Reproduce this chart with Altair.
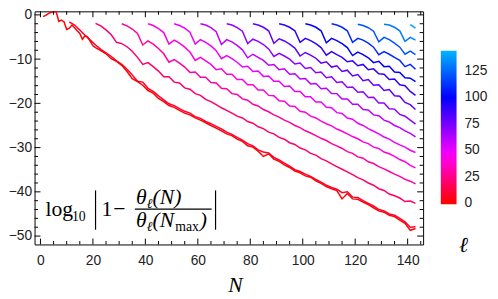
import altair as alt
import pandas as pd

# ---------------- data ----------------
L_LIST = [140, 130, 120, 110, 100, 90, 80, 70, 60, 50, 40, 30, 20, 10, 0]

N_L0 = list(range(1, 21)) + list(range(21, 144, 2))
V_L0 = [-0.4, -0.1, 0.3, 0.6, 0.7, 0.7, -1.5, -1.2, -1.6, -3.3, -3.0, -2.3, -2.9, -3.6, -4.2, -5.5, -4.7, -5.0, -6.0, -7.0,
        -7.4, -8.1, -8.8, -9.9, -10.5, -11.4, -12.8, -14.4, -15.1, -15.9,
        -17.1, -17.7, -18.9, -19.6, -20.5, -20.9, -21.6, -22.2, -22.6, -23.3,
        -23.8, -24.4, -25.0, -25.6, -26.2, -26.9, -27.3, -28.1, -28.6, -29.6,
        -29.9, -30.8, -32.0, -31.4, -32.6, -33.1, -33.9, -34.5, -35.3, -35.7,
        -36.4, -36.7, -37.5, -38.1, -38.8, -39.3, -39.7, -41.6, -40.4, -41.6,
        -41.7, -42.3, -42.9, -43.6, -44.3, -44.6, -45.3, -45.6, -46.4, -47.1,
        -48.7, -48.3]

V_L10 = [-1.6, -2.3, -3.4, -4.6, -5.7, -6.8, -7.8, -8.6, -9.4, -10.4,
         -11.2, -12.3, -13.6, -15.0, -15.2, -16.6, -17.3, -18.3, -19.2, -20.1,
         -20.5, -21.2, -21.8, -22.2, -23.0, -23.4, -24.1, -24.6, -25.2, -25.8,
         -26.5, -27.0, -27.7, -28.3, -29.1, -29.6, -30.5, -31.0, -31.2, -32.2,
         -32.8, -33.5, -34.2, -35.0, -35.4, -36.0, -36.5, -37.2, -37.8, -38.5,
         -39.0, -39.4, -40.2, -40.0, -41.2, -41.3, -42.0, -42.6, -43.2, -44.0,
         -44.3, -45.0, -45.3, -46.0, -46.8, -48.0, -47.9]

V_L20 = [-1.9, -2.5, -3.4, -4.5, -6.2, -6.5, -7.2, -8.2, -9.6, -11.2,
         -10.8, -11.7, -12.7, -14.0, -14.0, -15.2, -15.4, -16.5, -16.8, -17.8,
         -18.2, -19.1, -19.6, -20.3, -21.0, -21.6, -22.2, -22.9, -23.3, -24.1,
         -24.5, -25.3, -25.7, -26.5, -26.9, -27.7, -28.1, -28.9, -29.3, -30.1,
         -30.5, -31.3, -31.7, -32.5, -33.0, -33.7, -34.3, -34.9, -35.5, -36.1,
         -36.8, -37.3, -38.0, -38.5, -39.3, -39.7, -40.5, -40.9, -41.4, -42.2,
         -42.1, -42.6]

V_L30 = [-2.0, -2.5, -3.2, -4.2, -6.8, -5.9, -6.6, -7.6, -8.8, -10.7,
         -10.1, -10.9, -11.8, -13.0, -12.9, -14.1, -14.1, -15.3, -15.4, -16.6,
         -16.7, -17.8, -18.0, -19.0, -19.3, -20.2, -20.6, -21.4, -21.9, -22.6,
         -23.1, -23.8, -24.3, -25.0, -25.5, -26.2, -26.7, -27.3, -27.9, -28.4,
         -29.1, -29.6, -30.2, -30.9, -31.3, -32.1, -32.4, -33.2, -33.6, -34.3,
         -34.8, -35.4, -36.0, -36.5, -37.2, -37.6, -38.2]

V_L40 = [-2.0, -2.4, -3.1, -4.0, -6.6, -5.7, -6.4, -7.3, -8.4, -10.3,
         -9.6, -10.4, -11.2, -12.4, -12.2, -13.4, -13.4, -14.6, -14.6, -15.8,
         -15.8, -17.0, -17.0, -18.2, -18.3, -19.4, -19.5, -20.6, -20.7, -21.8,
         -22.0, -22.9, -23.3, -24.0, -24.6, -25.1, -25.8, -26.3, -26.9, -27.5,
         -28.0, -28.7, -29.1, -29.9, -30.2, -31.0, -31.4, -32.0, -32.7, -33.2,
         -34.0, -34.6]

V_L50 = [-2.0, -2.4, -3.0, -3.9, -6.6, -5.6, -6.2, -7.0, -8.1, -9.9,
         -9.2, -9.9, -10.7, -11.8, -11.6, -12.8, -12.7, -13.9, -13.8, -15.0,
         -15.0, -16.2, -16.1, -17.3, -17.3, -18.5, -18.5, -19.7, -19.7, -20.9,
         -21.0, -22.1, -22.3, -23.3, -23.6, -24.5, -25.0, -25.7, -26.3, -26.9,
         -27.6, -28.1, -28.8, -29.4, -29.9, -30.6, -31.1]

V_L60 = [-2.0, -2.3, -2.9, -3.8, -6.7, -5.6, -6.1, -6.9, -7.9, -9.7,
         -8.9, -9.6, -10.3, -11.4, -11.2, -12.4, -12.2, -13.4, -13.3, -14.5,
         -14.4, -15.6, -15.5, -16.7, -16.6, -17.8, -17.8, -19.0, -19.0, -20.2,
         -20.2, -21.4, -21.5, -22.6, -22.8, -23.8, -24.2, -25.0, -25.5, -26.2,
         -26.8, -27.6]

V_L70 = [-2.0, -2.3, -2.9, -3.7, -6.5, -5.5, -6.0, -6.7, -7.7, -9.4,
         -8.7, -9.3, -10.0, -11.1, -10.9, -12.1, -11.9, -13.1, -12.9, -14.2,
         -14.0, -15.3, -15.1, -16.4, -16.3, -17.5, -17.4, -18.7, -18.6, -19.9,
         -19.9, -21.2, -21.3, -22.5, -22.9, -23.8, -24.7]

V_L80 = [-2.0, -2.3, -2.8, -3.6, -6.4, -5.4, -5.9, -6.6, -7.5, -9.3,
         -8.5, -9.1, -9.8, -10.9, -10.6, -11.8, -11.5, -12.8, -12.5, -13.8,
         -13.5, -14.9, -14.6, -15.9, -15.8, -17.1, -16.9, -18.3, -18.4, -19.8,
         -20.3, -21.4]

V_L90 = [-2.0, -2.3, -2.8, -3.6, -6.2, -5.3, -5.8, -6.5, -7.4, -9.1,
         -8.3, -9.0, -9.6, -10.6, -10.4, -11.5, -11.2, -12.4, -12.2, -13.3,
         -13.4, -14.6, -14.5, -15.8, -16.0, -17.3, -18.2]

V_L100 = [-2.0, -2.3, -2.8, -3.6, -6.3, -5.3, -5.8, -6.5, -7.4, -9.2,
          -8.4, -9.0, -9.7, -10.8, -10.5, -11.7, -11.6, -12.9, -13.0, -14.2,
          -14.3, -15.1]

V_L110 = [-2.0, -2.3, -2.8, -3.6, -6.2, -5.3, -5.7, -6.4, -7.3, -9.0,
          -8.3, -8.9, -9.6, -10.3, -11.7, -11.2, -12.3]

V_L120 = [-2.1, -2.4, -2.9, -3.7, -6.1, -5.1, -5.6, -6.4, -7.3, -8.9,
          -8.2, -9.0]

V_L130 = [-2.1, -2.3, -2.8, -3.6, -6.0, -5.1, -5.7]

V_L140 = [-2.2, -3.0]

VALUES = {0: V_L0, 10: V_L10, 20: V_L20, 30: V_L30, 40: V_L40, 50: V_L50,
          60: V_L60, 70: V_L70, 80: V_L80, 90: V_L90, 100: V_L100,
          110: V_L110, 120: V_L120, 130: V_L130, 140: V_L140}

X_MAJOR = [0, 20, 40, 60, 80, 100, 120, 140]
X_MINOR = [5, 10, 15, 25, 30, 35, 45, 50, 55, 65, 70, 75, 85, 90, 95,
           105, 110, 115, 125, 130, 135, 145]
Y_MAJOR = [0, -10, -20, -30, -40, -50]
Y_MINOR = [-2, -4, -6, -8, -12, -14, -16, -18, -22, -24, -26, -28,
           -32, -34, -36, -38, -42, -44, -46, -48]
LEGEND_VALUES = [0, 25, 50, 75, 100, 125]

# ---------------- table ----------------
rows = []
for l in L_LIST:
    ns = N_L0 if l == 0 else list(range(l + 1, 144, 2))
    for n, v in zip(ns, VALUES[l]):
        rows.append({"N": n, "v": v, "l": l})
df = pd.DataFrame(rows)

W, H = 395, 237
xs = alt.Scale(domain=[-2.25, 145.9], nice=False, zero=False)
ys = alt.Scale(domain=[-51.9, 0.8], nice=False, zero=False)
cs = alt.Scale(domain=[-0.6, 10, 46, 100, 144],
               range=["#ff0000", "#ff0030", "#ff00ff", "#0000ff", "#00b4ff"],
               interpolate="rgb")

LABEL_FONT = "Liberation Sans"

AX = alt.Axis(values=X_MAJOR, ticks=False, domain=False, grid=False,
              labelFont=LABEL_FONT, labelFontSize=14, labelColor="#222",
              labelPadding=9, title=None)
AY = alt.Axis(values=Y_MAJOR, ticks=False, domain=False, grid=False,
              labelFont=LABEL_FONT, labelFontSize=14, labelColor="#222",
              labelPadding=3, title=None)

lines = alt.Chart(df).mark_line(strokeWidth=1.5, clip=True).encode(
    x=alt.X("N:Q", scale=xs, axis=AX),
    y=alt.Y("v:Q", scale=ys, axis=AY),
    color=alt.Color("l:Q", scale=cs,
                    legend=alt.Legend(orient="none", legendX=413, legendY=40,
                                      direction="vertical", gradientLength=156,
                                      gradientThickness=16, values=LEGEND_VALUES,
                                      labelFont=LABEL_FONT, labelFontSize=14,
                                      labelColor="#222", labelOffset=8,
                                      gradientStrokeWidth=0, title=None)),
    detail=alt.Detail("l:N"),
)


def xticks(vals, top, length):
    d = pd.DataFrame({"N": vals})
    y0, y1 = (0, length) if top else (H, H - length)
    return alt.Chart(d).mark_rule(color="black", strokeWidth=1).encode(
        x=alt.X("N:Q", scale=xs, axis=AX), y=alt.value(y0), y2=alt.value(y1))


def yticks(vals, right, length):
    d = pd.DataFrame({"v": vals})
    x0, x1 = (W, W - length) if right else (0, length)
    return alt.Chart(d).mark_rule(color="black", strokeWidth=1).encode(
        y=alt.Y("v:Q", scale=ys, axis=AY), x=alt.value(x0), x2=alt.value(x1))


def txt(s, x, y, size, style="normal", font="Liberation Serif", align="left"):
    return alt.Chart(alt.Data(values=[{"a": 0}])).mark_text(
        text=s, font=font, fontSize=size, fontStyle=style, align=align,
        baseline="alphabetic", color="black").encode(x=alt.value(x), y=alt.value(y))


def vrule(x, y0, y1, w=1.2):
    return alt.Chart(alt.Data(values=[{"a": 0}])).mark_rule(color="black", strokeWidth=w).encode(
        x=alt.value(x), y=alt.value(y0), y2=alt.value(y1))


def hrule(x0, x1, y, w=1.2):
    return alt.Chart(alt.Data(values=[{"a": 0}])).mark_rule(color="black", strokeWidth=w).encode(
        x=alt.value(x0), x2=alt.value(x1), y=alt.value(y))


ticks = [
    xticks(X_MAJOR, False, 6), xticks(X_MINOR, False, 3.5),
    xticks(X_MAJOR, True, 6), xticks(X_MINOR, True, 3.5),
    yticks(Y_MAJOR, False, 6), yticks(Y_MINOR, False, 3.5),
    yticks(Y_MAJOR, True, 6), yticks(Y_MINOR, True, 3.5),
]

formula = [
    txt("log", 11, 208, 22),
    txt("10", 38, 213, 14),
    vrule(62, 182, 222),
    txt("1", 68, 208, 22),
    txt("\u2212", 80, 208, 22),
    txt("\u03b8", 103, 196, 22, "italic"),
    txt("\u2113", 114, 200, 14, "italic", "DejaVu Serif"),
    txt("(N)", 120, 196, 22, "italic"),
    hrule(102, 180, 201),
    txt("\u03b8", 103, 219, 22, "italic"),
    txt("\u2113", 114, 223, 14, "italic", "DejaVu Serif"),
    txt("(N", 120, 219, 22, "italic"),
    txt("max", 143, 223, 14),
    txt(")", 168, 219, 22, "italic"),
    vrule(184, 182, 222),
    txt("N", 197, 285, 22, "italic"),
    txt("\u2113", 436, 245, 22, "italic", "DejaVu Serif", "center"),
]

chart = alt.layer(lines, *ticks, *formula).properties(
    width=W, height=H,
    autosize=alt.AutoSizeParams(type="none"),
    padding={"left": 27, "top": 1, "right": 68, "bottom": 51},
).configure_view(stroke="black", strokeWidth=1)

chart.save("out.html", embed_options={"renderer": "svg", "actions": False})
